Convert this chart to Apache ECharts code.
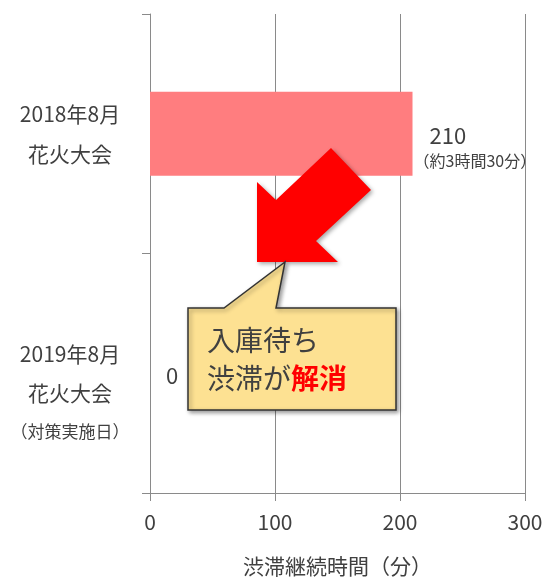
<!DOCTYPE html>
<html>
<head>
<meta charset="utf-8">
<title></title>
<script src="https://cdn.jsdelivr.net/npm/echarts@6/dist/echarts.min.js"></script>
<style>
html,body{margin:0;padding:0;background:#fff;}
#main{width:548px;height:582px;}
</style>
</head>
<body>
<div id="main"></div>
<script>
// カテゴリ（行ごと）
var catLines = [['2018年8月', '花火大会'], ['2019年8月', '花火大会', '（対策実施日）']];
var categories = catLines.map(function (l) { return l.join('\n'); });
var values = [210, 0];
var notes = ['（約3時間30分）', ''];
var xTicks = [0, 100, 200, 300];

var FONT = '"Noto Sans CJK JP", "Noto Sans", sans-serif';
var textColor = '#404040';
var lineColor = '#8a8a8a';

var chart = echarts.init(document.getElementById('main'));

var barData = values.map(function (v, i) {
  return {
    value: v,
    label: {
      formatter: notes[i] ? '{a|' + v + '}\n{b|' + notes[i] + '}' : '{z|' + v + '}',
      distance: notes[i] ? 1 : 16,
      offset: notes[i] ? [0, 13] : [0, 2]
    }
  };
});

var option = {
  animation: false,
  grid: { left: 150, right: 23, top: 14, bottom: 82 },
  xAxis: {
    type: 'value',
    min: xTicks[0],
    max: xTicks[xTicks.length - 1],
    interval: 100,
    name: '渋滞継続時間（分）',
    nameLocation: 'middle',
    nameGap: 63,
    nameTextStyle: { fontFamily: FONT, fontSize: 21, color: textColor },
    axisLine: { show: true, lineStyle: { color: lineColor, width: 1 } },
    axisTick: { show: true, length: 8, lineStyle: { color: lineColor } },
    axisLabel: { fontFamily: FONT, fontSize: 21, color: textColor, margin: 19 },
    splitLine: { show: true, lineStyle: { color: lineColor, width: 1 } }
  },
  yAxis: {
    type: 'category',
    inverse: true,
    data: categories,
    axisLine: { show: true, lineStyle: { color: lineColor, width: 1 } },
    axisTick: { show: true, length: 8, lineStyle: { color: lineColor } },
    axisLabel: {
      margin: 80,
      align: 'center',
      formatter: function (val, idx) {
        var l = catLines[idx];
        if (l.length === 2) {
          return '{a|' + l[0] + '}\n{a|' + l[1] + '}';
        }
        return '{e| }\n{c|' + l[0] + '}\n{c|' + l[1] + '}\n{s|' + l[2] + '}';
      },
      rich: {
        a: { fontFamily: FONT, fontSize: 21, color: textColor, lineHeight: 40, align: 'center' },
        c: { fontFamily: FONT, fontSize: 21, color: textColor, lineHeight: 39, align: 'center' },
        e: { fontFamily: FONT, fontSize: 10, lineHeight: 39, align: 'center' },
        s: { fontFamily: FONT, fontSize: 17, color: textColor, lineHeight: 39, align: 'center' }
      }
    }
  },
  series: [{
    type: 'bar',
    data: barData,
    barWidth: '35%',
    itemStyle: { color: '#ff7d7f' },
    label: {
      show: true,
      position: 'right',
      rich: {
        a: { fontFamily: FONT, fontSize: 22, color: textColor, lineHeight: 28, align: 'left', padding: [0, 0, 0, 16] },
        b: { fontFamily: FONT, fontSize: 16, color: textColor, lineHeight: 22, align: 'left' },
        z: { fontFamily: FONT, fontSize: 22, color: textColor, lineHeight: 28 }
      }
    }
  }],
  graphic: [
    {
      // 赤い矢印
      type: 'polygon',
      z: 100,
      shape: { points: [[257, 262], [338, 262], [316, 241], [371, 190], [331, 148], [276, 200], [257, 182]] },
      style: { fill: '#ff0000', shadowBlur: 4, shadowOffsetX: 2, shadowOffsetY: 2, shadowColor: 'rgba(0,0,0,0.35)' }
    },
    {
      // 吹き出し
      type: 'polygon',
      z: 100,
      shape: { points: [[188, 308], [224, 308], [285, 262], [276, 308], [396, 308], [396, 410], [188, 410]] },
      style: { fill: '#fde192', stroke: '#333', lineWidth: 1.5, shadowBlur: 4, shadowOffsetX: 2, shadowOffsetY: 2, shadowColor: 'rgba(0,0,0,0.4)' }
    },
    {
      type: 'text',
      z: 101,
      x: 207,
      y: 359,
      style: {
        text: '{n|入庫待ち}\n{n|渋滞が}{r|解消}',
        verticalAlign: 'middle',
        align: 'left',
        rich: {
          n: { fontFamily: FONT, fontSize: 28, fill: textColor, lineHeight: 38 },
          r: { fontFamily: FONT, fontSize: 28, fill: '#ff0000', fontWeight: 'bold', lineHeight: 38 }
        }
      }
    }
  ]
};

chart.setOption(option);
</script>
</body>
</html>
